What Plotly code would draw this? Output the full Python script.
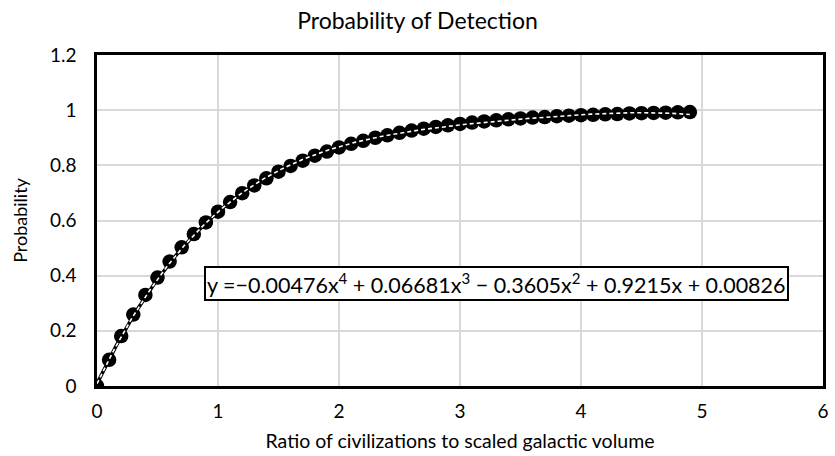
import numpy as np
import plotly.graph_objects as go

x_vals = [0.0, 0.1, 0.2, 0.3, 0.4, 0.5, 0.6, 0.7, 0.8, 0.9,
          1.0, 1.1, 1.2, 1.3, 1.4, 1.5, 1.6, 1.7, 1.8, 1.9,
          2.0, 2.1, 2.2, 2.3, 2.4, 2.5, 2.6, 2.7, 2.8, 2.9,
          3.0, 3.1, 3.2, 3.3, 3.4, 3.5, 3.6, 3.7, 3.8, 3.9,
          4.0, 4.1, 4.2, 4.3, 4.4, 4.5, 4.6, 4.7, 4.8, 4.9]
prob_vals = [0.0, 0.095, 0.181, 0.259, 0.330, 0.393, 0.451, 0.503, 0.551, 0.593,
             0.632, 0.667, 0.699, 0.727, 0.753, 0.777, 0.798, 0.817, 0.835, 0.850,
             0.865, 0.878, 0.889, 0.900, 0.909, 0.918, 0.926, 0.933, 0.939, 0.945,
             0.950, 0.955, 0.959, 0.963, 0.967, 0.970, 0.973, 0.975, 0.978, 0.980,
             0.982, 0.983, 0.985, 0.986, 0.988, 0.989, 0.990, 0.991, 0.992, 0.993]
# polynomial trendline coefficients (highest power first), from the chart label
trend_coef = [-0.00476, 0.06681, -0.3605, 0.9215, 0.00826]
equation_text = "y =−0.00476x<sup>4</sup> + 0.06681x<sup>3</sup> − 0.3605x<sup>2</sup> + 0.9215x + 0.00826"

tx = np.linspace(min(x_vals), max(x_vals), 300)
ty = np.polyval(trend_coef, tx)

FONT = "Lato"
fig = go.Figure()
fig.add_trace(go.Scatter(x=x_vals, y=prob_vals, mode="markers",
                         marker=dict(color="black", size=14.5, line=dict(width=0)),
                         showlegend=False))
fig.add_trace(go.Scatter(x=tx, y=ty, mode="lines",
                         line=dict(color="black", width=3.5), showlegend=False))
fig.add_trace(go.Scatter(x=tx, y=ty, mode="lines",
                         line=dict(color="white", width=1.6, dash="4px,3px"), showlegend=False))

fig.update_layout(
    width=835, height=456,
    margin=dict(l=97, r=12, t=55, b=70),
    paper_bgcolor="white", plot_bgcolor="white",
    font=dict(family=FONT, size=19, color="black"),
    title=dict(text="Probability of Detection", x=0.5, xanchor="center",
               y=0.955, yanchor="middle", font=dict(family=FONT, size=23)),
    xaxis=dict(range=[0, 6], dtick=1, showgrid=True, gridcolor="#d9d9d9", gridwidth=1.5,
               showline=True, linecolor="black", linewidth=2.5, mirror=True,
               zeroline=False, ticks="outside", ticklen=6, tickcolor="rgba(0,0,0,0)",
               automargin=False,
               title=dict(text="Ratio of civilizations to scaled galactic volume",
                          font=dict(size=19.5), standoff=14)),
    yaxis=dict(range=[0, 1.2], dtick=0.2, showgrid=True, gridcolor="#d9d9d9", gridwidth=1.5,
               showline=True, linecolor="black", linewidth=2.5, mirror=True,
               zeroline=False, ticks="outside", ticklen=14, tickcolor="rgba(0,0,0,0)",
               tickformat="~g", automargin=False,
               title=dict(text="Probability", font=dict(size=18), standoff=18)),
    annotations=[dict(x=3.3, y=0.37, xref="x", yref="y", text=equation_text,
                      showarrow=False, font=dict(size=21.5, family=FONT),
                      bgcolor="white", bordercolor="black", borderwidth=2, borderpad=1)],
)
fig.write_html("out.html", config={"displayModeBar": False},
               post_script="document.body.style.margin='0';")
